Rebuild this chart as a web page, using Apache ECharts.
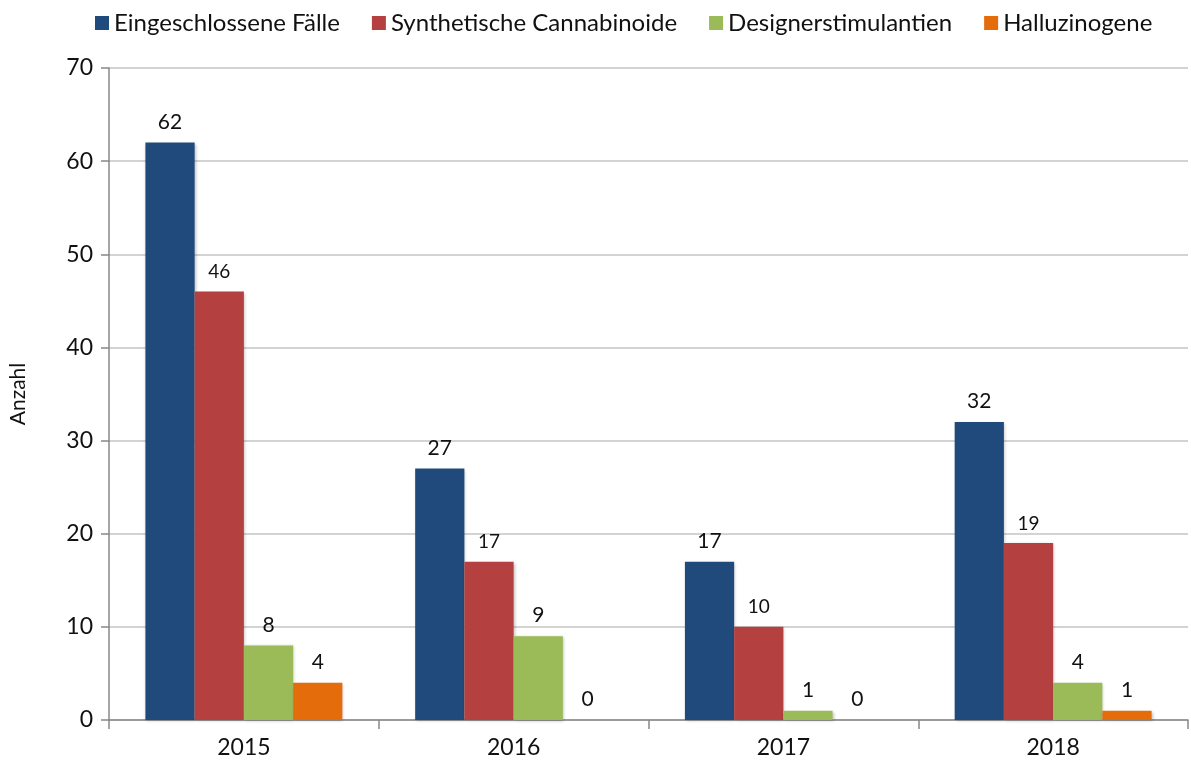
<!DOCTYPE html>
<html>
<head>
<meta charset="utf-8">
<script src="https://cdn.jsdelivr.net/npm/echarts@6/dist/echarts.min.js"></script>
<style>
  html, body { margin: 0; padding: 0; background: #fff; }
  #chart { width: 1191px; height: 769px; }
</style>
</head>
<body>
<div id="chart"></div>
<script>
  const years = ['2015', '2016', '2017', '2018']
  const seriesNames = ['Eingeschlossene Fälle', 'Synthetische Cannabinoide', 'Designerstimulantien', 'Halluzinogene']
  const faelle = [62, 27, 17, 32]
  const cannabinoide = [46, 17, 10, 19]
  const stimulantien = [8, 9, 1, 4]
  const halluzinogene = [4, 0, 0, 1]

  const colors = ['#204a7c', '#b44040', '#9bbb59', '#e46c0a']
  const font = 'Lato, Calibri, sans-serif'

  const chart = echarts.init(document.getElementById('chart'))

  function bar (name, data, color, labelSize) {
    return {
      name: name,
      type: 'bar',
      data: data,
      barGap: '0%',
      barCategoryGap: '27%',
      itemStyle: {
        color: color,
        shadowColor: 'rgba(0,0,0,0.25)',
        shadowBlur: 3,
        shadowOffsetX: 1,
        shadowOffsetY: 1
      },
      label: {
        show: true,
        position: 'top',
        distance: 10,
        color: '#111',
        fontFamily: font,
        fontSize: labelSize
      }
    }
  }

  chart.setOption({
    animation: false,
    textStyle: { fontFamily: font },
    legend: {
      top: 6,
      left: 90,
      icon: 'rect',
      itemWidth: 14,
      itemHeight: 14,
      itemGap: 32,
      textStyle: { fontSize: 24, color: '#111', fontFamily: font },
      data: seriesNames
    },
    grid: {
      left: 107,
      right: 3,
      top: 68,
      bottom: 49
    },
    xAxis: {
      type: 'category',
      data: years,
      axisLine: { lineStyle: { color: '#888', width: 1.5 } },
      axisTick: { show: true, length: 9, lineStyle: { color: '#888', width: 1.5 } },
      axisLabel: { fontSize: 23, color: '#111', margin: 16, fontFamily: font }
    },
    yAxis: {
      type: 'value',
      min: 0,
      max: 70,
      interval: 10,
      name: 'Anzahl',
      nameLocation: 'middle',
      nameGap: 80,
      nameTextStyle: { fontSize: 21, color: '#111', fontFamily: font },
      axisLine: { show: true, lineStyle: { color: '#888', width: 1.5 } },
      axisTick: { show: true, length: 8, lineStyle: { color: '#888', width: 1.5 } },
      axisLabel: { fontSize: 23, color: '#111', margin: 16, fontFamily: font },
      splitLine: { lineStyle: { color: '#c4c4c4', width: 1.5 } }
    },
    series: [
      bar(seriesNames[0], faelle, colors[0], 21),
      bar(seriesNames[1], cannabinoide, colors[1], 19),
      bar(seriesNames[2], stimulantien, colors[2], 21),
      bar(seriesNames[3], halluzinogene, colors[3], 21)
    ]
  })
</script>
</body>
</html>
